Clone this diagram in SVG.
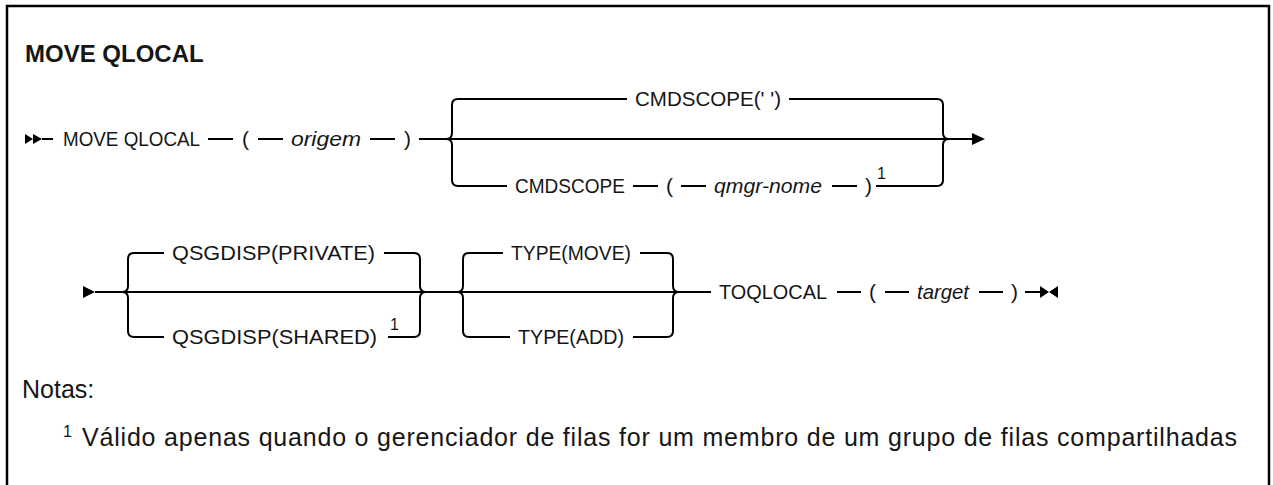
<svg xmlns="http://www.w3.org/2000/svg" width="1273" height="485" viewBox="0 0 1273 485">
<style>
.t{font-family:"Liberation Sans",Arial,sans-serif;font-size:21px;fill:#161616}
.v{font-style:italic}
.sup{font-family:"Liberation Sans",Arial,sans-serif;font-size:16px;fill:#161616}
.title{font-family:"Liberation Sans",Arial,sans-serif;font-size:24px;font-weight:bold;fill:#161616}
.note{font-family:"Liberation Sans",Arial,sans-serif;font-size:25px;fill:#161616}
.ln{fill:none;stroke:#000;stroke-width:2}
.mk{fill:#000;stroke:none}
</style>
<rect x="0" y="0" width="1273" height="485" fill="#fff"/>
<path d="M7,485 V6 H1269 V485" fill="none" stroke="#000" stroke-width="2.5"/>
<text class="title" x="25" y="62">MOVE QLOCAL</text>

<g id="connectors">
  <!-- row 1 -->
  <path class="mk" d="M25,134 L33,139 L25,144 Z M33,134 L42,139 L33,144 Z"/>
  <path class="ln" d="M42,139 H53"/>
  <path class="ln" d="M208,139 H233 M258,139 H283 M370,139 H395"/>
  <path class="ln" d="M419,139 H972"/>
  <path class="mk" d="M972,133 L985,139 L972,145 Z"/>
  <path class="ln" d="M446,139 Q452,139 452,133 V105 Q452,99 458,99 H627 M789,99 H937 Q943,99 943,105 V133 Q943,139 949,139"/>
  <path class="ln" d="M446,139 Q452,139 452,145 V180 Q452,186 458,186 H507 M633,186 H658 M681,186 H706 M832,186 H857 M876,186 H937 Q943,186 943,180 V145 Q943,139 949,139"/>
  <!-- row 2 -->
  <path class="mk" d="M83,286 L95,292 L83,298 Z"/>
  <path class="ln" d="M95,292 H711"/>
  <path class="ln" d="M122,292 Q128,292 128,286 V259 Q128,253 134,253 H164 M384,253 H414 Q420,253 420,259 V286 Q420,292 426,292"/>
  <path class="ln" d="M122,292 Q128,292 128,298 V331 Q128,337 134,337 H164 M388,337 H414 Q420,337 420,331 V298 Q420,292 426,292"/>
  <path class="ln" d="M457,292 Q463,292 463,286 V259 Q463,253 469,253 H503 M640,253 H667 Q673,253 673,259 V286 Q673,292 679,292"/>
  <path class="ln" d="M457,292 Q463,292 463,298 V331 Q463,337 469,337 H510 M633,337 H667 Q673,337 673,331 V298 Q673,292 679,292"/>
  <path class="ln" d="M837,292 H861 M885,292 H909 M979,292 H1003 M1025,292 H1040"/>
  <path class="mk" d="M1040,286 L1049,292 L1040,298 Z M1058,286 L1049,292 L1058,298 Z"/>
</g>

<g id="n-move"><text class="t" x="63" y="146" textLength="137" lengthAdjust="spacingAndGlyphs">MOVE QLOCAL</text></g>
<g id="n-lp1"><text class="t" x="242" y="146">(</text></g>
<g id="n-origem"><text class="t v" x="291" y="146" textLength="70" lengthAdjust="spacingAndGlyphs">origem</text></g>
<g id="n-rp1"><text class="t" x="404" y="146">)</text></g>
<g id="n-cmdscope-default"><text class="t" x="635" y="106" textLength="146" lengthAdjust="spacingAndGlyphs">CMDSCOPE(' ')</text></g>
<g id="n-cmdscope">
  <text class="t" x="515" y="193" textLength="110" lengthAdjust="spacingAndGlyphs">CMDSCOPE</text>
  <text class="t" x="666" y="193">(</text>
  <text class="t v" x="714" y="193" textLength="108" lengthAdjust="spacingAndGlyphs">qmgr-nome</text>
  <text class="t" x="865" y="193">)</text>
  <text class="sup" x="877" y="179">1</text>
</g>
<g id="n-qsg-private"><text class="t" x="172" y="260" textLength="203" lengthAdjust="spacingAndGlyphs">QSGDISP(PRIVATE)</text></g>
<g id="n-qsg-shared">
  <text class="t" x="172" y="344" textLength="205" lengthAdjust="spacingAndGlyphs">QSGDISP(SHARED)</text>
  <text class="sup" x="390" y="330">1</text>
</g>
<g id="n-type-move"><text class="t" x="511" y="260" textLength="120" lengthAdjust="spacingAndGlyphs">TYPE(MOVE)</text></g>
<g id="n-type-add"><text class="t" x="518" y="344" textLength="106" lengthAdjust="spacingAndGlyphs">TYPE(ADD)</text></g>
<g id="n-toqlocal">
  <text class="t" x="719" y="299" textLength="108" lengthAdjust="spacingAndGlyphs">TOQLOCAL</text>
  <text class="t" x="869" y="299">(</text>
  <text class="t v" x="917" y="299" textLength="52" lengthAdjust="spacingAndGlyphs">target</text>
  <text class="t" x="1011" y="299">)</text>
</g>
<g id="notes">
  <text class="note" x="22" y="398">Notas:</text>
  <text class="sup" x="63" y="437">1</text>
  <text class="note" x="82" y="446" textLength="1155" lengthAdjust="spacing">Válido apenas quando o gerenciador de filas for um membro de um grupo de filas compartilhadas</text>
</g>
</svg>
